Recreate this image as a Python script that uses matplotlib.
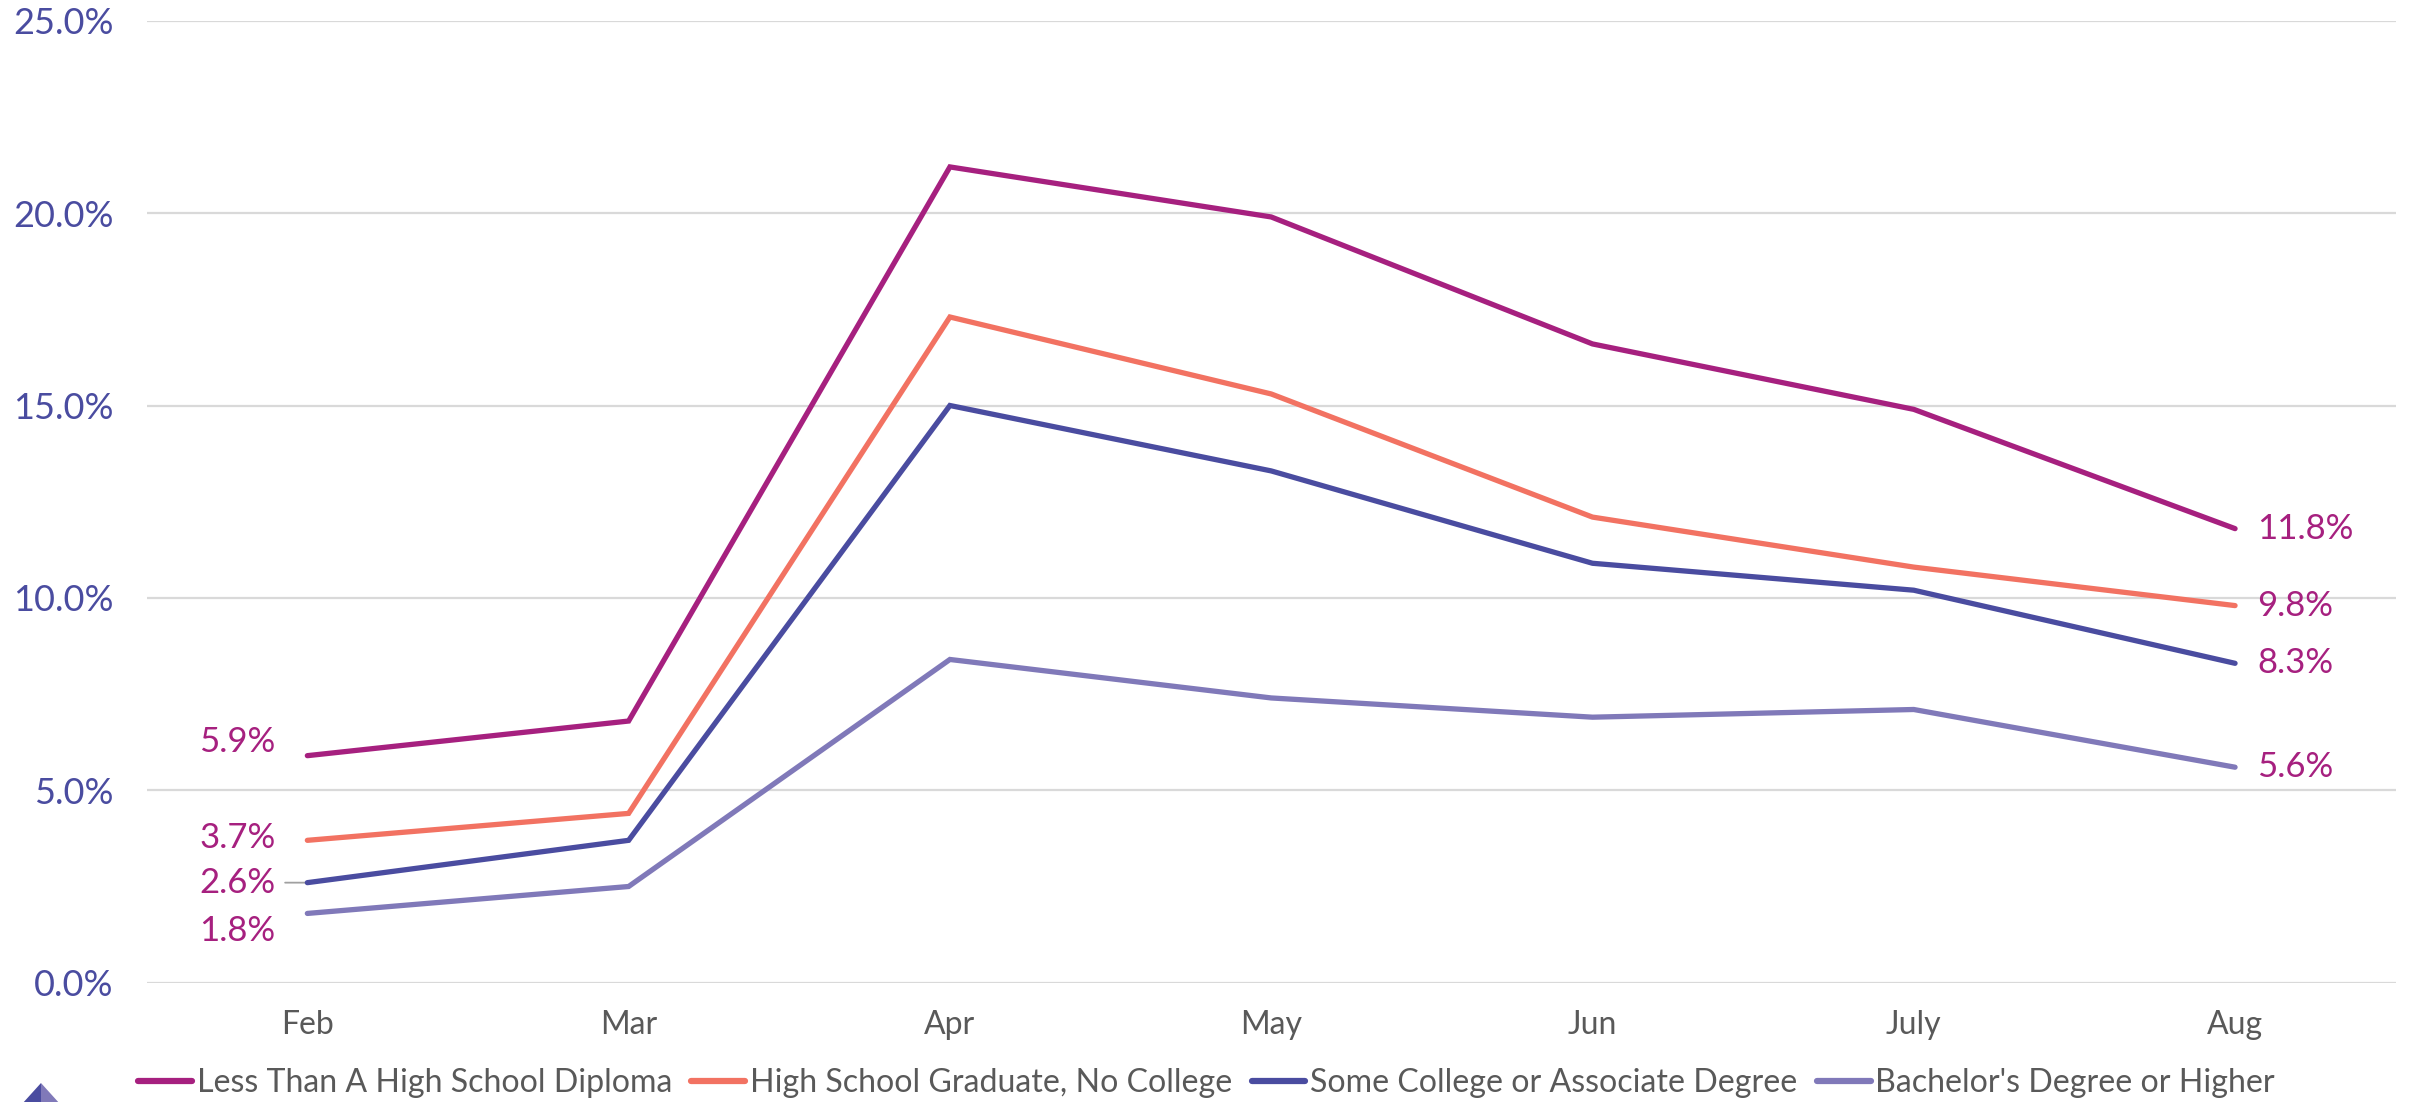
import matplotlib
matplotlib.use("Agg")
import matplotlib.pyplot as plt
from matplotlib.patches import Polygon

plt.rcParams['font.family'] = ['Lato', 'DejaVu Sans']

# Unemployment rate by educational attainment, Feb–Aug
months = ["Feb", "Mar", "Apr", "May", "Jun", "July", "Aug"]
less_than_hs = [5.9, 6.8, 21.2, 19.9, 16.6, 14.9, 11.8]
hs_grad = [3.7, 4.4, 17.3, 15.3, 12.1, 10.8, 9.8]
some_college = [2.6, 3.7, 15.0, 13.3, 10.9, 10.2, 8.3]
bachelors = [1.8, 2.5, 8.4, 7.4, 6.9, 7.1, 5.6]

series_names = [
    "Less Than A High School Diploma",
    "High School Graduate, No College",
    "Some College or Associate Degree",
    "Bachelor's Degree or Higher",
]
series_values = [less_than_hs, hs_grad, some_college, bachelors]
series_colors = ["#a6207f", "#f27262", "#4a4ca0", "#8079b9"]

y_ticks = [0, 5, 10, 15, 20, 25]

LABEL_COLOR = "#a6207f"
AXIS_BLUE = "#4a4ca0"
TEXT_GRAY = "#595959"

W, H, DPI = 2412, 1102, 100
fig = plt.figure(figsize=(W / DPI, H / DPI), dpi=DPI)
ax = fig.add_axes([146.7 / W, 1 - 982.7 / H, (2395.7 - 146.7) / W, (982.7 - 20.7) / H])

x = list(range(len(months)))
lines = []
for name, vals, col in zip(series_names, series_values, series_colors):
    ln, = ax.plot(x, vals, color=col, lw=3.8, solid_capstyle="round",
                  solid_joinstyle="miter", label=name, zorder=3)
    lines.append(ln)

ax.set_xlim(-0.5, len(months) - 0.5)
ax.set_ylim(0, 25)
ax.set_yticks(y_ticks)
ax.set_yticklabels([f"{v:.1f}%" for v in y_ticks])
ax.set_xticks(x)
ax.set_xticklabels(months)
ax.grid(axis="y", color="#d9d9d9", lw=1.6, zorder=0)
ax.set_axisbelow(True)
for s in ax.spines.values():
    s.set_visible(False)
ax.tick_params(axis="both", length=0)
ax.tick_params(axis="y", labelsize=26, labelcolor=AXIS_BLUE, pad=24)
ax.tick_params(axis="x", labelsize=23, labelcolor=TEXT_GRAY, pad=20)

# Start-of-period labels (left of Feb), nudged vertically to avoid overlap
left_offsets = [10, 2, 0, -13]
for vals, dy in zip(series_values, left_offsets):
    v = vals[0]
    ax.annotate(f"{v:.1f}%", xy=(0, v), xytext=(-23, dy), textcoords="offset points",
                ha="right", va="center", fontsize=25, color=LABEL_COLOR, zorder=4)
# Leader line for the Some College start label
ax.annotate("", xy=(0, some_college[0]), xytext=(-16, 0), textcoords="offset points",
            arrowprops=dict(arrowstyle="-", color="#a0a0a0", lw=1.3,
                            shrinkA=0, shrinkB=0), zorder=2)

# End-of-period labels (right of Aug)
for vals in series_values:
    v = vals[-1]
    ax.annotate(f"{v:.1f}%", xy=(len(months) - 1, v), xytext=(16, 0),
                textcoords="offset points", ha="left", va="center",
                fontsize=25, color=LABEL_COLOR, zorder=4)

leg = fig.legend(handles=lines, labels=series_names, loc="center left",
                 bbox_to_anchor=(138 / W, 1 - 1083 / H), ncol=4, frameon=False,
                 fontsize=23.1, handlelength=1.68, handletextpad=0.15,
                 columnspacing=0.6, borderpad=0, borderaxespad=0)
for t in leg.get_texts():
    t.set_color(TEXT_GRAY)
for h in leg.get_lines():
    h.set_linewidth(4.5)

# Small two-tone triangle mark in the lower-left corner
apex = (41 / W, 1 - 1083 / H)
base_l = (22 / W, 0.0 - 2 / H)
base_m = (41 / W, 0.0 - 2 / H)
base_r = (60 / W, 0.0 - 2 / H)
fig.patches.append(Polygon([apex, base_l, base_m], closed=True, transform=fig.transFigure,
                           facecolor="#4a4ca0", edgecolor="none"))
fig.patches.append(Polygon([apex, base_m, base_r], closed=True, transform=fig.transFigure,
                           facecolor="#8079b9", edgecolor="none"))

fig.savefig("out.png", dpi=DPI, facecolor="white")
